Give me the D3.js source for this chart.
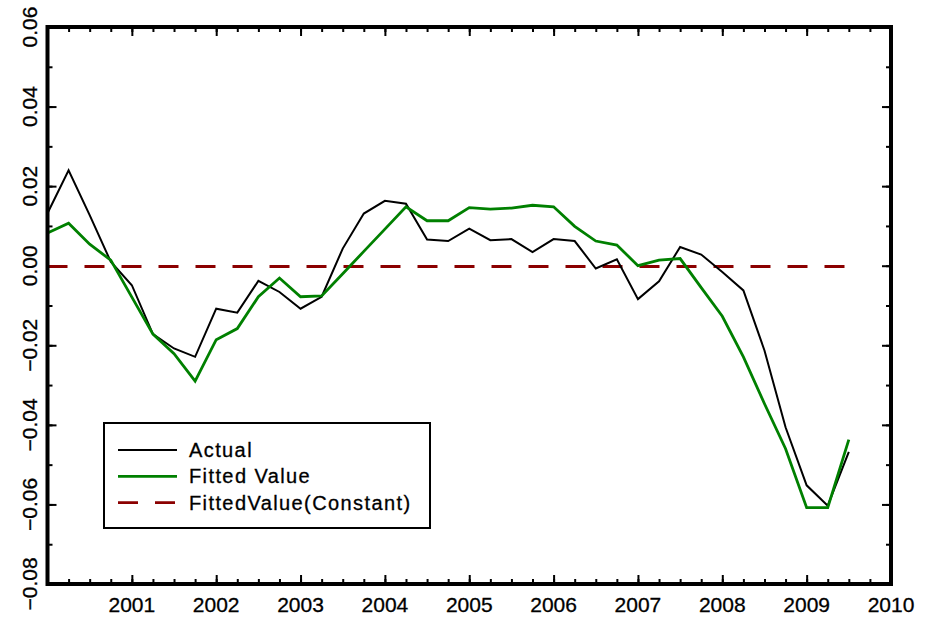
<!DOCTYPE html>
<html>
<head>
<meta charset="utf-8">
<script src="https://cdn.jsdelivr.net/npm/d3@7"></script>
<style>
  body { margin: 0; background: #fff; }
  svg { display: block; }
</style>
</head>
<body>
<div id="chart"></div>
<script>
  // quarterly observations, 2000Q1 .. 2009Q3
  const quarters = d3.range(39).map(i => 2000 + i * 0.25);
  const actual = [
    0.0132, 0.0240, 0.0127, 0.0010, -0.0049, -0.0172, -0.0208, -0.0229,
    -0.0108, -0.0118, -0.0038, -0.0066, -0.0108, -0.0078, 0.0043, 0.0131,
    0.0163, 0.0156, 0.0066, 0.0062, 0.0093, 0.0064, 0.0067, 0.0034,
    0.0067, 0.0062, -0.0007, 0.0016, -0.0084, -0.0039, 0.0047, 0.0028,
    -0.0016, -0.0062, -0.0213, -0.0406, -0.0552, -0.0603, -0.0468
  ];
  const fitted = [
    0.0082, 0.0107, 0.0054, 0.0014, -0.0079, -0.0172, -0.0221, -0.0290,
    -0.0186, -0.0158, -0.0078, -0.0031, -0.0078, -0.0076, -0.0020, 0.0036,
    0.0092, 0.0148, 0.0113, 0.0113, 0.0146, 0.0142, 0.0145, 0.0152,
    0.0148, 0.0099, 0.0062, 0.0052, 0.0000, 0.0014, 0.0018, -0.0055,
    -0.0127, -0.0229, -0.0347, -0.0460, -0.0608, -0.0608, -0.0437
  ];
  const constantValue = -0.0002;
  const yearTicks = d3.range(2001, 2011);
  const valueTicks = [0.06, 0.04, 0.02, 0.00, -0.02, -0.04, -0.06, -0.08];
  const legendLabels = ['Actual', 'Fitted Value', 'FittedValue(Constant)'];

  const width = 937;
  const height = 618;
  const margin = { top: 27, right: 46, bottom: 34, left: 47.5 };

  const svg = d3.select('#chart').append('svg')
    .attr('width', width)
    .attr('height', height);

  const x = d3.scaleLinear()
    .domain([2000, 2010])
    .range([margin.left, width - margin.right]);
  const y = d3.scaleLinear()
    .domain([-0.08, 0.06])
    .range([height - margin.bottom, margin.top]);

  const minorX = d3.range(2000, 2010.001, 0.25);
  const majorX = d3.range(2000, 2010.001, 1);
  const minorY = d3.range(-0.08, 0.0601, 0.01);

  function tickGroup(axis, tx, ty) {
    const g = svg.append('g')
      .attr('transform', `translate(${tx},${ty})`)
      .call(axis);
    g.select('.domain').remove();
    g.selectAll('text').remove();
    g.selectAll('line').attr('stroke', '#000').attr('stroke-width', 2);
    return g;
  }

  // inward ticks on all four sides
  const x0 = x.range()[0], x1 = x.range()[1];
  const y0 = y.range()[0], y1 = y.range()[1];
  tickGroup(d3.axisTop(x).tickValues(minorX).tickSize(5), 0, y0);
  tickGroup(d3.axisTop(x).tickValues(majorX).tickSize(9), 0, y0);
  tickGroup(d3.axisBottom(x).tickValues(minorX).tickSize(5), 0, y1);
  tickGroup(d3.axisBottom(x).tickValues(majorX).tickSize(9), 0, y1);
  tickGroup(d3.axisRight(y).tickValues(minorY).tickSize(5), x0, 0);
  tickGroup(d3.axisRight(y).tickValues(valueTicks).tickSize(9), x0, 0);
  tickGroup(d3.axisLeft(y).tickValues(minorY).tickSize(5), x1, 0);
  tickGroup(d3.axisLeft(y).tickValues(valueTicks).tickSize(9), x1, 0);

  // x labels
  svg.append('g').selectAll('text')
    .data(yearTicks)
    .join('text')
    .attr('x', d => x(d))
    .attr('y', 612)
    .attr('text-anchor', 'middle')
    .attr('font-family', 'Liberation Sans, Arial, sans-serif')
    .attr('font-size', 21)
    .attr('stroke', '#000')
    .attr('stroke-width', 0.3)
    .text(d => d);

  // y labels, rotated
  const fmt = d3.format('.2f');
  svg.append('g').selectAll('text')
    .data(valueTicks)
    .join('text')
    .attr('transform', d => `translate(37,${y(d)}) rotate(-90)`)
    .attr('text-anchor', 'middle')
    .attr('font-family', 'Liberation Sans, Arial, sans-serif')
    .attr('font-size', 21)
    .attr('stroke', '#000')
    .attr('stroke-width', 0.3)
    .text(d => fmt(d));

  const line = d3.line()
    .x(d => x(d[0]))
    .y(d => y(d[1]));

  svg.append('path')
    .datum([[quarters[0], constantValue], [quarters[quarters.length - 1], constantValue]])
    .attr('d', line)
    .attr('fill', 'none')
    .attr('stroke', '#8b0000')
    .attr('stroke-width', 2.8)
    .attr('stroke-dasharray', '20,17');

  svg.append('path')
    .datum(quarters.map((q, i) => [q, actual[i]]))
    .attr('d', line)
    .attr('fill', 'none')
    .attr('stroke', '#000')
    .attr('stroke-width', 2);

  svg.append('path')
    .datum(quarters.map((q, i) => [q, fitted[i]]))
    .attr('d', line)
    .attr('fill', 'none')
    .attr('stroke', '#008000')
    .attr('stroke-width', 2.8);

  // frame
  svg.append('rect')
    .attr('x', x0)
    .attr('y', y1)
    .attr('width', x1 - x0)
    .attr('height', y0 - y1)
    .attr('fill', 'none')
    .attr('stroke', '#000')
    .attr('stroke-width', 4);

  // legend
  const legend = svg.append('g');
  legend.append('rect')
    .attr('x', 104)
    .attr('y', 423)
    .attr('width', 326)
    .attr('height', 105)
    .attr('fill', '#fff')
    .attr('stroke', '#000')
    .attr('stroke-width', 2);

  const styles = [
    { color: '#000', w: 2, dash: null },
    { color: '#008000', w: 2.8, dash: null },
    { color: '#8b0000', w: 2.8, dash: '20,17' },
  ];
  legendLabels.forEach((label, i) => {
    const ly = 450 + i * 26.3;
    legend.append('line')
      .attr('x1', 118).attr('x2', 177)
      .attr('y1', ly).attr('y2', ly)
      .attr('stroke', styles[i].color)
      .attr('stroke-width', styles[i].w)
      .attr('stroke-dasharray', styles[i].dash);
    legend.append('text')
      .attr('x', 189)
      .attr('y', ly + 7)
      .attr('font-family', 'Liberation Sans, Arial, sans-serif')
      .attr('font-size', 20)
      .attr('letter-spacing', 1.4)
      .attr('stroke', '#000')
      .attr('stroke-width', 0.3)
      .text(label);
  });
</script>
</body>
</html>
